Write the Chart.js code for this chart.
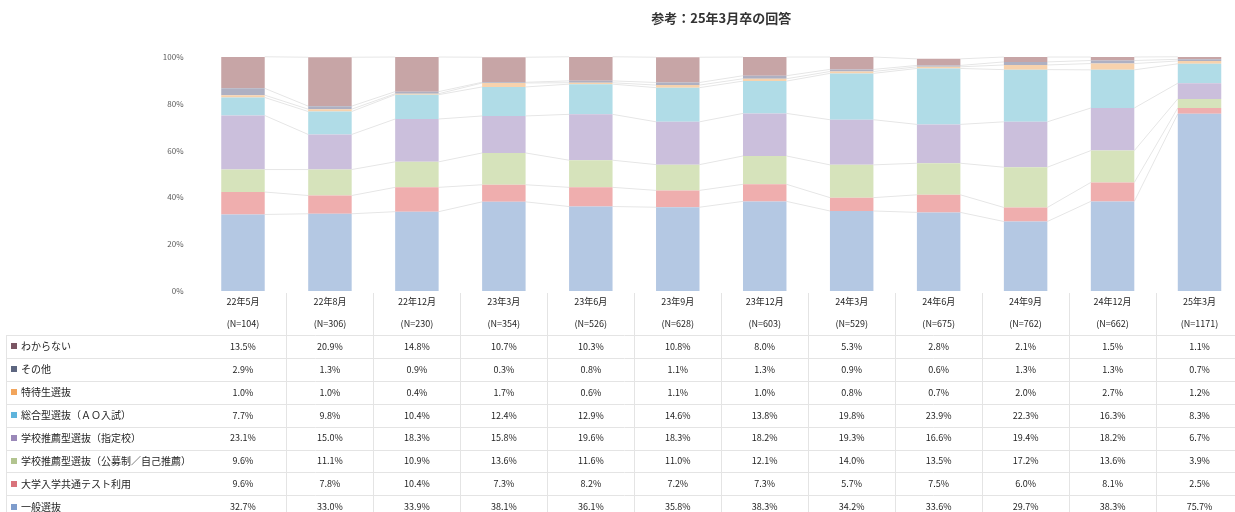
<!DOCTYPE html>
<html lang="ja">
<head>
<meta charset="UTF-8">
<title>入試方式</title>
<script src="https://cdn.jsdelivr.net/npm/chart.js@4.4.1/dist/chart.umd.min.js"></script>
<style>
	html, body { margin: 0; padding: 0; background: #fff; overflow: hidden; }
	#wrap { width: 1243px; height: 512px; }
</style>
</head>
<body>
<div id="wrap"><canvas id="graph_exam"></canvas></div>
<script>
// 調査時期
const labels = ["22年5月", "22年8月", "22年12月", "23年3月", "23年6月", "23年9月", "23年12月", "24年3月", "24年6月", "24年9月", "24年12月", "25年3月"];
// 回答数
const sampleN = [104, 306, 230, 354, 526, 628, 603, 529, 675, 762, 662, 1171];

// 入試方式別の割合 (%)
const ippan = [32.7, 33.0, 33.9, 38.1, 36.1, 35.8, 38.3, 34.2, 33.6, 29.7, 38.3, 75.7];
const kyotsuTest = [9.6, 7.8, 10.4, 7.3, 8.2, 7.2, 7.3, 5.7, 7.5, 6.0, 8.1, 2.5];
const suisenKobo = [9.6, 11.1, 10.9, 13.6, 11.6, 11.0, 12.1, 14.0, 13.5, 17.2, 13.6, 3.9];
const suisenShitei = [23.1, 15.0, 18.3, 15.8, 19.6, 18.3, 18.2, 19.3, 16.6, 19.4, 18.2, 6.7];
const sogo = [7.7, 9.8, 10.4, 12.4, 12.9, 14.6, 13.8, 19.8, 23.9, 22.3, 16.3, 8.3];
const tokutai = [1.0, 1.0, 0.4, 1.7, 0.6, 1.1, 1.0, 0.8, 0.7, 2.0, 2.7, 1.2];
const sonota = [2.9, 1.3, 0.9, 0.3, 0.8, 1.1, 1.3, 0.9, 0.6, 1.3, 1.3, 0.7];
const wakaranai = [13.5, 20.9, 14.8, 10.7, 10.3, 10.8, 8.0, 5.3, 2.8, 2.1, 1.5, 1.1];

const yTicks = [0, 20, 40, 60, 80, 100];

const seriesNames = ["一般選抜", "大学入学共通テスト利用", "学校推薦型選抜（公募制／自己推薦）", "学校推薦型選抜（指定校）", "総合型選抜（ＡＯ入試）", "特待生選抜", "その他", "わからない"];
const seriesData = [ippan, kyotsuTest, suisenKobo, suisenShitei, sogo, tokutai, sonota, wakaranai];
const barColors = ["#b4c8e3", "#efaeae", "#d6e3bb", "#cbbfdc", "#b0dce7", "#f7d2ad", "#aeb0c2", "#c7a5a6"];
const keyColors = ["#7e9ccc", "#d9737b", "#b2c48f", "#9a88b8", "#5fb4dc", "#f2a55c", "#5d6680", "#7a5563"];

const FONT = "'Noto Sans CJK JP', 'Noto Sans', sans-serif";

// 表の行位置
const headerY1 = 302;
const headerY2 = 324;
const rowTop = 335;
const rowH = 22.9;

const dataTablePlugin = {
	id: "dataTable",
	beforeDatasetsDraw(chart) {
		// 系列線
		const ctx = chart.ctx;
		ctx.save();
		ctx.strokeStyle = "#e6e6e6";
		ctx.lineWidth = 1;
		chart.data.datasets.forEach((ds, d) => {
			const bars = chart.getDatasetMeta(d).data;
			for (let j = 0; j < bars.length - 1; j++) {
				const a = bars[j], b = bars[j + 1];
				ctx.beginPath();
				ctx.moveTo(a.x + a.width / 2, a.y);
				ctx.lineTo(b.x - b.width / 2, b.y);
				ctx.stroke();
			}
		});
		ctx.restore();
	},
	afterDraw(chart) {
		const ctx = chart.ctx;
		const area = chart.chartArea;
		const xScale = chart.scales.x;
		const step = (area.right - area.left) / labels.length;
		ctx.save();

		// タイトル
		ctx.fillStyle = "#333333";
		ctx.font = "bold 13px " + FONT;
		ctx.textAlign = "center";
		ctx.textBaseline = "middle";
		ctx.fillText("参考：25年3月卒の回答", (area.left + area.right) / 2, 18);

		// 罫線
		ctx.strokeStyle = "#e4e4e4";
		ctx.lineWidth = 1;
		for (let r = 0; r < seriesNames.length; r++) {
			const y = Math.round(rowTop + r * rowH) + 0.5;
			ctx.beginPath();
			ctx.moveTo(6, y);
			ctx.lineTo(area.right, y);
			ctx.stroke();
		}
		for (let j = 1; j < labels.length; j++) {
			const x = Math.round(area.left + j * step) + 0.5;
			ctx.beginPath();
			ctx.moveTo(x, area.bottom + 2);
			ctx.lineTo(x, 512);
			ctx.stroke();
		}
		ctx.beginPath();
		ctx.moveTo(6.5, rowTop);
		ctx.lineTo(6.5, 512);
		ctx.stroke();

		// 見出し
		ctx.fillStyle = "#1f1f1f";
		ctx.font = "9px " + FONT;
		labels.forEach((lab, j) => {
			const x = xScale.getPixelForValue(j);
			ctx.fillText(lab, x, headerY1);
			ctx.fillText("(N=" + sampleN[j] + ")", x, headerY2);
		});

		// 各系列の値 (上から わからない → 一般選抜)
		for (let r = 0; r < seriesNames.length; r++) {
			const s = seriesNames.length - 1 - r;
			const y = rowTop + r * rowH + rowH / 2;
			ctx.fillStyle = keyColors[s];
			ctx.fillRect(11, Math.round(y) - 3, 6, 6);
			ctx.fillStyle = "#1f1f1f";
			ctx.textAlign = "left";
			ctx.font = "10px " + FONT;
			ctx.fillText(seriesNames[s], 21, y);
			ctx.textAlign = "center";
			ctx.font = "9px " + FONT;
			seriesData[s].forEach((v, j) => {
				ctx.fillText(v.toFixed(1) + "%", xScale.getPixelForValue(j), y);
			});
		}
		ctx.restore();
	}
};

const ctx = document.getElementById("graph_exam").getContext("2d");
const examChart = new Chart(ctx, {
	type: "bar",
	data: {
		labels: labels,
		datasets: seriesNames.map((name, i) => ({
			label: name,
			data: seriesData[i],
			backgroundColor: barColors[i],
			borderWidth: 0,
			categoryPercentage: 1.0,
			barPercentage: 0.5
		}))
	},
	options: {
		responsive: true,
		maintainAspectRatio: false,
		animation: false,
		layout: {
			padding: { top: 57, bottom: 221, left: 0, right: 0 }
		},
		scales: {
			x: {
				stacked: true,
				display: false
			},
			y: {
				stacked: true,
				min: 0,
				max: 100,
				afterBuildTicks: (axis) => {
					axis.ticks = yTicks.map(v => ({ value: v }));
				},
				afterFit: (axis) => {
					axis.width = 199.5;
				},
				grid: { display: false },
				border: { display: false },
				ticks: {
					padding: 8,
					color: "#595959",
					font: { family: FONT, size: 8 },
					callback: (v) => v + "%"
				}
			}
		},
		plugins: {
			legend: { display: false },
			tooltip: { enabled: false }
		}
	},
	plugins: [dataTablePlugin]
});
</script>
</body>
</html>
